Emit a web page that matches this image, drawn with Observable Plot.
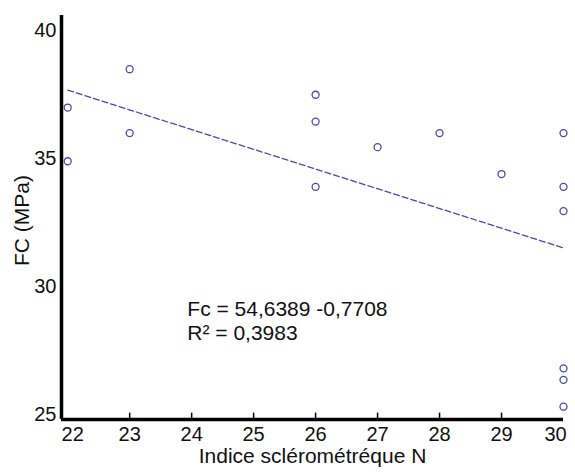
<!DOCTYPE html>
<html>
<head>
<meta charset="utf-8">
<script src="https://cdn.jsdelivr.net/npm/d3@7"></script>
<script src="https://cdn.jsdelivr.net/npm/@observablehq/plot@0.6"></script>
<style>
  html, body { margin: 0; padding: 0; background: #ffffff; }
  #chart svg { display: block; }
</style>
</head>
<body>
<div id="chart"></div>
<script>
// Data
const indexN = [22, 22, 23, 23, 26, 26, 26, 27, 28, 29, 30, 30, 30, 30, 30, 30];
const fcMPa  = [37.0, 34.9, 38.5, 36.0, 37.5, 36.45, 33.9, 35.45, 36.0, 34.4, 36.0, 33.9, 32.95, 26.8, 26.35, 25.3];

// Regression line endpoints (Fc = 54,6389 - 0,7708 N)
const fitN  = [22, 30];
const fitFc = [37.68, 31.51];

// Tick labels
const xTicks = [22, 23, 24, 25, 26, 27, 28, 29, 30];
const yTicks = [25, 30, 35, 40];
const xTickMarks = [23, 24, 25, 26, 27, 28, 29];

const xLabel = "Indice sclérométréque N";
const yLabel = "FC (MPa)";
const annotation = ["Fc = 54,6389 -0,7708", "R² = 0,3983"];

const points = indexN.map((n, i) => ({n, fc: fcMPa[i]}));
const fit = fitN.map((n, i) => ({n, fc: fitFc[i]}));

const xDom = [21.9, 30];
const yDom = [24.8, 40.6];
const blue = "#4a4aa6";
const font = "'Liberation Sans', Arial, sans-serif";

const chart = Plot.plot({
  width: 575,
  height: 473,
  marginLeft: 61,
  marginRight: 12,
  marginTop: 15,
  marginBottom: 54,
  style: {fontFamily: font, background: "#ffffff", color: "#111"},
  x: {domain: xDom, axis: null},
  y: {domain: yDom, axis: null},
  marks: [
    // regression line
    Plot.line(fit, {x: "n", y: "fc", stroke: blue, strokeWidth: 1.3, strokeDasharray: "6,3"}),
    // points
    Plot.dot(points, {x: "n", y: "fc", r: 3.5, stroke: blue, strokeWidth: 1.3, fill: "none"}),
    // inward ticks on x axis
    Plot.ruleX(xTickMarks, {x: d => d, y1: yDom[0], y2: yDom[0] + 0.25, stroke: "#000", strokeWidth: 1.5}),
    // axis lines
    Plot.ruleY([yDom[0]], {x1: xDom[0], x2: xDom[1], stroke: "#000", strokeWidth: 3.5}),
    Plot.ruleX([xDom[0]], {y1: yDom[0], y2: yDom[1], stroke: "#000", strokeWidth: 3.5}),
    // tick labels
    Plot.axisY(yTicks, {tickSize: 0, tickPadding: 5, fontSize: 20, anchor: "left", label: null}),
    Plot.axisX([xTicks[0]], {tickSize: 0, tickPadding: 7, fontSize: 20, anchor: "bottom", label: null, dx: 5}),
    Plot.axisX(xTicks.slice(1, -1), {tickSize: 0, tickPadding: 7, fontSize: 20, anchor: "bottom", label: null}),
    Plot.axisX([xTicks[xTicks.length - 1]], {tickSize: 0, tickPadding: 7, fontSize: 20, anchor: "bottom", label: null, dx: -8}),
    // axis titles
    Plot.text([xLabel], {text: d => d, frameAnchor: "bottom", dy: 43, fontSize: 21, fill: "#111"}),
    Plot.text([yLabel], {text: d => d, frameAnchor: "left", textAnchor: "middle", lineAnchor: "middle", rotate: -90, dx: -39, dy: 3, fontSize: 21, fill: "#111"}),
    // annotation
    Plot.text([annotation[0]], {text: d => d, x: 23.93, y: 29.1, textAnchor: "start", fontSize: 21, fill: "#111"}),
    Plot.text([annotation[1]], {text: d => d, x: 23.93, y: 28.17, textAnchor: "start", fontSize: 21, fill: "#111"})
  ]
});
document.getElementById("chart").appendChild(chart);
</script>
</body>
</html>
